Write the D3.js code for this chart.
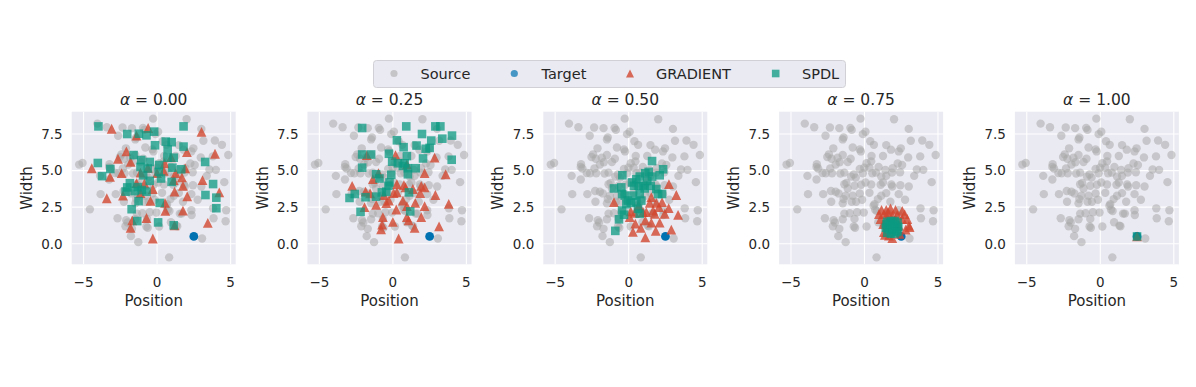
<!DOCTYPE html>
<html>
<head>
<meta charset="utf-8">
<script src="https://cdn.jsdelivr.net/npm/d3@7"></script>
<style>
body{margin:0;background:#fff;}
text{font-family:"DejaVu Sans",sans-serif;fill:#262626;}
</style>
</head>
<body>
<svg id="chart" width="1196" height="387"></svg>
<script>
// source samples (same in every panel)
var sourceX=[-0.27,2.01,-4.06,-3.42,-2.35,-1.71,-0.96,-0.87,3.01,0.07,-0.11,-2.65,-1.42,-1.48,0.39,0.64,1.48,3.15,3.93,4.41,2.47,1.80,-2.12,-0.80,-0.32,-0.25,4.84,3.79,2.97,2.33,1.26,0.48,-2.42,-2.53,-2.24,-1.48,-1.83,-0.94,-1.14,-1.69,-1.96,-3.24,-2.33,-3.15,-5.30,-5.07,0.14,0.46,-0.02,-0.32,0.34,0.96,1.42,2.26,1.92,2.56,3.56,4.00,3.38,2.42,1.87,1.48,1.14,0.78,0.53,-0.11,-0.73,-0.59,-0.91,-1.37,-1.64,-2.21,-2.63,-2.85,-3.26,-3.88,-3.26,-3.84,-2.81,-2.28,-1.96,-1.76,-1.37,-1.23,-1.14,-0.68,-0.23,0.07,0.46,1.10,1.26,1.83,1.89,2.44,3.01,4.57,2.33,1.48,1.14,0.91,0.34,-0.32,-0.80,-1.28,-1.42,-0.87,-0.57,-0.16,0.68,1.76,2.76,-2.26,-1.48,-4.57,-2.69,-2.10,-2.01,-2.15,-1.71,-1.78,-1.28,-1.48,-1.37,-1.00,-0.68,-0.50,-0.05,-0.73,-0.64,0.14,0.62,0.73,0.84,1.55,1.67,2.33,2.35,3.81,3.84,4.66,4.70,0.94,1.30,1.37,3.06,0.82];
var sourceY=[8.55,8.51,8.21,7.96,7.94,7.90,7.92,7.78,7.85,7.65,7.49,7.38,7.26,7.13,7.01,6.76,6.74,7.04,7.06,6.76,6.52,6.43,6.52,6.58,6.45,6.31,6.06,5.97,5.90,6.31,6.00,6.00,6.11,5.93,5.81,6.06,5.88,5.81,5.59,5.57,5.41,5.43,5.14,5.14,5.41,5.52,5.50,5.63,5.20,5.11,5.20,5.25,5.05,5.48,5.16,5.38,5.07,5.05,4.64,4.89,4.86,4.64,4.59,4.86,4.82,4.82,4.73,4.52,4.59,4.86,4.80,4.82,4.82,4.84,5.25,4.64,4.39,3.39,3.39,3.60,3.55,3.44,4.07,4.16,3.78,3.96,4.03,4.19,4.05,4.03,4.19,4.05,3.91,4.00,3.91,4.21,3.39,3.46,3.28,3.05,3.48,3.44,3.28,3.28,3.05,2.87,2.87,3.01,2.71,2.87,3.01,2.87,2.76,2.35,1.74,1.61,1.45,1.20,1.02,0.52,0.11,1.67,2.06,2.08,1.70,2.15,2.13,1.18,1.09,1.18,2.60,2.33,2.24,2.06,2.06,2.29,1.97,2.42,1.74,1.54,2.29,1.47,1.24,1.20,0.36,-0.93];
var target=[2.5,0.5];
var alphas=["0.00","0.25","0.50","0.75","1.00"];

// GRADIENT particles per alpha
var gradX=[
 [-3.09,-0.61,-1.40,3.02,3.94,-2.09,-2.66,-1.80,-4.44,-3.20,-2.41,-0.63,-1.13,0.00,0.52,1.26,1.91,3.09,1.69,-1.40,-0.86,-0.29,1.19,1.76,2.05,4.23,-3.42,-2.32,-1.13,-0.45,0.54,0.56,1.76,-0.72,-1.69,-1.80,-0.29,3.45,1.19,2.03,0.95,1.13,0.45],
 [-1.77,0.18,0.95,2.84,3.59,-2.77,-1.86,-0.98,-1.36,-1.55,-1.14,-0.61,-0.45,-0.27,0.27,0.27,0.05,0.75,0.86,0.68,1.36,1.52,1.86,1.93,2.16,2.16,2.89,2.16,0.95,0.23,-0.68,-0.73,-0.80,0.00,0.95,1.07,1.93,1.48,3.14,0.39,3.80,-1.93],
 [2.74,3.24,-1.00,2.72,3.36,1.54,1.43,1.88,2.06,2.27,1.66,1.20,0.98,0.41,0.14,1.13,0.45,0.82,0.29,1.13,2.11,1.54,1.84,2.90,0.07,0.68,1.77,2.45],
 [1.16,1.48,1.77,2.11,2.57,2.73,1.32,2.91,3.02,1.09,1.27,1.32,1.39,1.89,2.39,2.80,3.07,1.61,2.23,2.57,1.55,2.11,1.89,0.98,2.34,1.66],
 [2.5]
];
var gradY=[
 [7.86,7.91,7.39,7.64,6.15,6.31,5.81,5.59,5.16,4.57,4.82,5.18,4.86,4.82,5.50,4.82,5.16,4.35,4.53,4.14,4.12,3.74,3.56,3.96,3.24,3.51,3.11,3.29,3.47,2.93,2.79,2.25,2.27,1.76,1.60,1.08,0.36,1.42,1.26,6.26,5.90,4.35,4.98],
 [6.06,6.06,5.43,5.88,4.75,3.96,3.56,4.82,4.41,3.45,2.66,3.33,2.77,2.95,4.08,3.51,3.47,4.01,3.85,2.95,3.74,2.79,3.47,3.96,4.82,3.85,3.33,2.57,2.57,2.34,1.82,1.31,0.99,1.49,1.82,1.60,1.82,1.08,1.19,0.36,2.73,2.50],
 [4.08,3.33,2.84,2.43,1.98,3.18,2.79,2.79,2.50,2.84,2.27,2.16,2.16,2.12,2.21,1.60,1.37,1.08,0.81,0.43,1.44,1.44,0.88,0.97,1.82,2.61,2.05,2.05],
 [2.32,2.32,2.41,2.32,2.25,2.03,2.03,1.69,1.24,1.69,1.35,0.79,0.61,0.38,0.68,0.97,1.13,2.14,1.96,1.69,1.80,1.69,1.91,2.03,1.24,0.56],
 [0.5]
];

// SPDL particles per alpha
var spdlX=[
 [-3.99,-2.03,-1.24,-0.72,-0.20,1.80,0.59,0.99,-0.14,0.72,1.80,-1.60,-1.08,-0.50,0.70,1.13,-4.03,-3.18,-3.74,-1.13,-0.63,0.14,0.11,0.27,1.04,1.64,3.27,3.81,3.29,4.03,4.03,-1.85,-2.03,-2.14,-1.31,-1.04,-0.72,-1.26,-1.73,-1.35,0.07,1.13,0.18,-0.50,0.99,-0.95,-1.53],
 [-2.09,0.91,2.89,3.23,1.98,0.27,0.73,1.61,2.61,3.36,4.02,2.23,2.50,-2.09,-1.48,-0.27,0.95,4.00,2.05,-0.05,0.34,0.68,1.02,1.55,-2.09,-1.14,-0.91,-0.11,-0.23,-0.30,-0.75,-2.59,-2.95,-1.86,-1.14,-0.45,1.09,-2.20,1.18,1.02,0.80],
 [1.59,2.34,2.11,-0.43,-1.00,-0.50,-0.45,-0.27,0.23,0.52,0.75,1.13,1.36,1.27,0.98,0.68,1.50,1.88,2.27,2.00,0.29,0.75,0.86,0.52,0.14,-0.16,-0.45,-0.32,-0.66,-0.91,0.63,0.75,-0.05,1.59,0.36,1.09],
 [1.55,1.80,2.05,2.25,2.30,2.25,2.05,1.80,1.55,1.45,1.70,1.90,2.05,1.85,1.65,2.10,1.75,1.95,1.50,2.20],
 [2.5]
];
var spdlY=[
 [8.02,7.50,7.52,7.41,7.66,8.02,6.98,6.94,6.73,6.44,6.64,6.06,5.72,5.59,5.88,5.88,5.52,5.11,4.62,5.25,5.14,5.38,4.91,4.46,5.20,5.09,5.59,4.08,3.33,3.15,2.43,4.14,3.85,3.56,3.87,3.67,3.56,2.91,2.36,1.55,1.46,1.26,2.79,4.30,4.23,4.68,3.60],
 [7.91,8.02,8.02,8.02,7.50,7.07,6.60,6.71,7.05,7.18,7.39,6.49,6.55,6.10,6.10,6.15,5.99,5.74,5.83,5.61,5.50,5.32,5.16,5.16,5.20,4.75,4.46,4.71,4.19,3.96,3.51,3.40,3.13,3.18,3.22,3.56,3.51,2.18,2.21,4.75,5.50],
 [5.65,5.09,4.68,4.68,3.78,3.85,3.40,3.29,4.19,4.41,4.59,4.82,4.91,4.30,3.96,3.96,3.96,3.74,3.40,3.40,3.29,3.40,2.95,2.84,2.79,2.70,2.27,1.98,1.67,0.88,2.39,2.05,2.95,4.59,3.96,3.78],
 [1.50,1.55,1.55,1.45,1.15,0.85,0.70,0.68,0.75,1.10,1.20,1.20,1.00,0.95,1.00,1.30,1.40,1.05,1.35,0.80],
 [0.5]
];

var xTicks=[-5,0,5];
var yTicks=[0,2.5,5,7.5];

var colors={source:"#a6a6a6",target:"#0072b2",grad:"#d2472f",spdl:"#0c9a82"};
var svg=d3.select("#chart");
var panelLeft=71.7,panelStep=235.8,panelW=164,panelTop=111.7,panelH=152.6;

// matplotlib-like 5% margins from the source cloud
var xExt=d3.extent(sourceX),yExt=d3.extent(sourceY);
var xPad=(xExt[1]-xExt[0])*0.05,yPad=(yExt[1]-yExt[0])*0.05;

function triPath(h){return "M0,"+(-h)+"L"+h+","+h+"L"+(-h)+","+h+"Z";}

alphas.forEach(function(a,p){
    var left=panelLeft+p*panelStep;
    var x=d3.scaleLinear().domain([xExt[0]-xPad,xExt[1]+xPad]).range([0,panelW]);
    var y=d3.scaleLinear().domain([yExt[0]-yPad,yExt[1]+yPad]).range([panelH,0]);
    var g=svg.append("g").attr("transform","translate("+left+","+panelTop+")");
    g.append("rect").attr("width",panelW).attr("height",panelH).attr("fill","#eaeaf2");
    g.selectAll(".gx").data(xTicks).enter().append("line")
        .attr("x1",function(d){return x(d);}).attr("x2",function(d){return x(d);})
        .attr("y1",0).attr("y2",panelH).attr("stroke","#fff").attr("stroke-width",1.1);
    g.selectAll(".gy").data(yTicks).enter().append("line")
        .attr("y1",function(d){return y(d);}).attr("y2",function(d){return y(d);})
        .attr("x1",0).attr("x2",panelW).attr("stroke","#fff").attr("stroke-width",1.1);

    var clip="clip"+p;
    svg.append("defs").append("clipPath").attr("id",clip).append("rect").attr("width",panelW).attr("height",panelH);
    var marks=g.append("g").attr("clip-path","url(#"+clip+")");

    marks.selectAll(".src").data(d3.range(sourceX.length)).enter().append("circle")
        .attr("cx",function(i){return x(sourceX[i]);}).attr("cy",function(i){return y(sourceY[i]);})
        .attr("r",4.2).attr("fill",colors.source).attr("fill-opacity",0.52);
    marks.append("circle").attr("cx",x(target[0])).attr("cy",y(target[1]))
        .attr("r",4.4).attr("fill",colors.target);
    marks.selectAll(".grad").data(d3.range(gradX[p].length)).enter().append("path")
        .attr("d",triPath(4.9))
        .attr("transform",function(i){return "translate("+x(gradX[p][i])+","+y(gradY[p][i])+")";})
        .attr("fill",colors.grad).attr("fill-opacity",0.8);
    marks.selectAll(".spdl").data(d3.range(spdlX[p].length)).enter().append("rect")
        .attr("x",function(i){return x(spdlX[p][i])-4.3;}).attr("y",function(i){return y(spdlY[p][i])-4.3;})
        .attr("width",8.6).attr("height",8.6)
        .attr("fill",colors.spdl).attr("fill-opacity",0.75);

    // ticks
    g.selectAll(".xt").data(xTicks).enter().append("text")
        .attr("x",function(d){return x(d);}).attr("y",panelH+23)
        .attr("text-anchor","middle").style("font-size","13.5px")
        .text(function(d){return d<0?"\u2212"+Math.abs(d):d;});
    g.selectAll(".yt").data(yTicks).enter().append("text")
        .attr("x",-9).attr("y",function(d){return y(d);}).attr("dy","0.36em")
        .attr("text-anchor","end").style("font-size","13.5px")
        .text(function(d){return d3.format(".1f")(d);});
    g.append("text").attr("x",panelW/2).attr("y",panelH+41.5).attr("text-anchor","middle")
        .style("font-size","15px").text("Position");
    g.append("text").attr("transform","translate(-40,"+(panelH/2)+") rotate(-90)")
        .attr("text-anchor","middle").style("font-size","15px").text("Width");
    var t=g.append("text").attr("x",panelW/2).attr("y",-7).attr("text-anchor","middle").style("font-size","15.5px");
    t.append("tspan").style("font-style","italic").text("\u03b1");
    t.append("tspan").text(" = "+a);
});

// legend
var legendItems=[{name:"Source",kind:"source",mx:394,tx:420.5},{name:"Target",kind:"target",mx:514.3,tx:541.5},
    {name:"GRADIENT",kind:"grad",mx:630,tx:656},{name:"SPDL",kind:"spdl",mx:775.7,tx:802}];
var lg=svg.append("g");
lg.append("rect").attr("x",373.5).attr("y",60.5).attr("width",472).attr("height",27).attr("rx",3)
    .attr("fill","#eaeaf2").attr("stroke","#d0d0d6").attr("stroke-width",1);
legendItems.forEach(function(d){
    var cy=73.5;
    if(d.kind==="source"){
        lg.append("circle").attr("cx",d.mx).attr("cy",cy).attr("r",3.6).attr("fill",colors.source).attr("fill-opacity",0.55);
    }else if(d.kind==="target"){
        lg.append("circle").attr("cx",d.mx).attr("cy",cy).attr("r",3.6).attr("fill",colors.target).attr("fill-opacity",0.7);
    }else if(d.kind==="grad"){
        lg.append("path").attr("d",triPath(4)).attr("transform","translate("+d.mx+","+cy+")").attr("fill",colors.grad).attr("fill-opacity",0.8);
    }else{
        lg.append("rect").attr("x",d.mx-3.8).attr("y",cy-3.8).attr("width",7.6).attr("height",7.6).attr("fill",colors.spdl).attr("fill-opacity",0.75);
    }
    lg.append("text").attr("x",d.tx).attr("y",cy).attr("dy","0.36em").style("font-size","14.5px").text(d.name);
});
</script>
</body>
</html>
